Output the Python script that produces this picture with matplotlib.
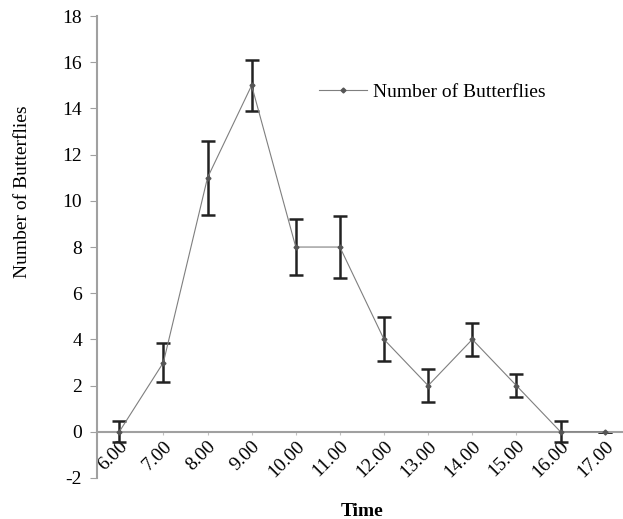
import matplotlib.pyplot as plt

plt.rcParams['font.family'] = 'serif'
plt.rcParams['font.serif'] = ['Liberation Serif', 'Times New Roman', 'DejaVu Serif']
plt.rcParams['axes.unicode_minus'] = False

times = ['6.00', '7.00', '8.00', '9.00', '10.00', '11.00', '12.00',
         '13.00', '14.00', '15.00', '16.00', '17.00']
butterflies = [0, 3, 11, 15, 8, 8, 4, 2, 4, 2, 0, 0]
errors = [0.45, 0.85, 1.6, 1.1, 1.2, 1.35, 0.95, 0.7, 0.7, 0.5, 0.45, 0.0]

fig = plt.figure(figsize=(6.23, 5.19), dpi=100)
ax = fig.add_axes([0.156, 0.079, 0.85, 0.890])

x = list(range(len(times)))
ax.errorbar(x, butterflies, yerr=errors, fmt='none', ecolor='#222222',
            elinewidth=1.8, capsize=5, capthick=1.8, zorder=2)
ax.plot(x, butterflies, color='#7f7f7f', lw=0.8, marker='D', markersize=2.5,
        markerfacecolor='#555555', markeredgecolor='#555555',
        label='Number of Butterflies', zorder=3)

ax.set_xlim(-0.5, 11.5)
ax.set_ylim(-2, 18)
ax.set_yticks(range(-2, 19, 2))
ax.set_xticks(x)
ax.set_xticklabels(times)

for s in ['top', 'right']:
    ax.spines[s].set_visible(False)
ax.spines['bottom'].set_position(('data', 0))
ax.spines['bottom'].set_color('#a0a0a0')
ax.spines['bottom'].set_linewidth(1.5)
ax.spines['left'].set_color('#a0a0a0')
ax.spines['left'].set_linewidth(1.5)

ax.tick_params(axis='y', direction='out', length=5, color='#a0a0a0',
               labelsize=14, pad=6)
ax.tick_params(axis='x', direction='out', length=2, color='#c0c0c0',
               labelsize=14, pad=2)
for lab in ax.get_xticklabels():
    lab.set_rotation(45)
    lab.set_ha('right')
    lab.set_va('top')
    lab.set_rotation_mode('anchor')

ax.set_ylabel('Number of Butterflies', fontsize=14)
ax.yaxis.set_label_coords(-0.125, 0.62)
ax.set_xlabel('Time', fontsize=14, fontweight='bold')
ax.xaxis.set_label_coords(0.5, -0.055)

ax.legend(loc='upper left', bbox_to_anchor=(0.385, 0.893), frameon=False,
          fontsize=14, handlelength=2.5, handletextpad=0.3)

fig.savefig('out.png', dpi=100)
